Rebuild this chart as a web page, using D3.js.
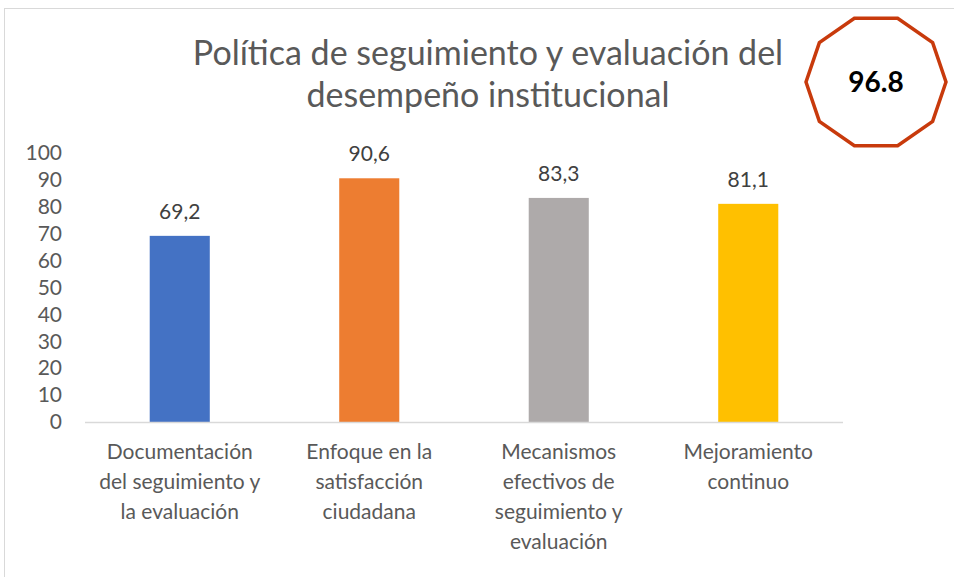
<!DOCTYPE html>
<html>
<head>
<meta charset="utf-8">
<script src="https://cdn.jsdelivr.net/npm/d3@7"></script>
<style>
  body { margin: 0; background: #fff; }
  svg { display: block; font-family: Lato, "Open Sans", sans-serif; }
</style>
</head>
<body>
<div id="chart"></div>
<script>
// data
var categories = [
  ["Documentación", "del seguimiento y", "la evaluación"],
  ["Enfoque en la", "satisfacción", "ciudadana"],
  ["Mecanismos", "efectivos de", "seguimiento y", "evaluación"],
  ["Mejoramiento", "continuo"]
]
var values = [69.2, 90.6, 83.3, 81.1]
var colors = ["#4472C4", "#ED7D31", "#AEAAAA", "#FFC000"]
var yTicks = [0, 10, 20, 30, 40, 50, 60, 70, 80, 90, 100]
var titleLines = ["Política de seguimiento y evaluación del", "desempeño institucional"]
var badge = "96.8"

var width = 954, height = 577

var svg = d3.select("#chart")
  .append("svg")
    .attr("width", width)
    .attr("height", height)

// chart frame
svg.append("rect")
  .attr("x", 4.5).attr("y", 8.5)
  .attr("width", 970).attr("height", 600)
  .attr("fill", "#fff")
  .attr("stroke", "#d9d9d9")

var x = d3.scaleBand()
  .domain(d3.range(values.length))
  .range([85, 843])
  .padding(0)

var y = d3.scaleLinear()
  .domain([0, 100])
  .range([422, 153])

// y axis labels, no line
var yAxis = svg.append("g")
  .attr("transform", "translate(62,0)")
  .call(d3.axisLeft(y).tickValues(yTicks).tickSize(0).tickPadding(0))
yAxis.select(".domain").remove()
yAxis.selectAll("text")
  .attr("fill", "#595959")
  .style("font-size", "21px")
  .style("font-family", "Lato, 'Open Sans', sans-serif")

var barW = x.bandwidth() * 0.317

svg.append("g")
  .selectAll("rect")
  .data(values)
  .enter().append("rect")
    .attr("x", function(d, i) { return x(i) + (x.bandwidth() - barW) / 2 })
    .attr("y", function(d) { return y(d) })
    .attr("width", barW)
    .attr("height", function(d) { return y(0) - y(d) })
    .attr("fill", function(d, i) { return colors[i] })

// baseline
svg.append("line")
  .attr("x1", x.range()[0]).attr("x2", x.range()[1])
  .attr("y1", y(0) + 0.5).attr("y2", y(0) + 0.5)
  .attr("stroke", "#d9d9d9")
  .attr("stroke-width", 1.5)

// value labels
svg.append("g")
  .selectAll("text")
  .data(values)
  .enter().append("text")
    .attr("x", function(d, i) { return x(i) + x.bandwidth() / 2 })
    .attr("y", function(d) { return y(d) - 17 })
    .attr("text-anchor", "middle")
    .attr("fill", "#404040")
    .style("font-size", "21px")
    .text(function(d) { return String(d).replace(".", ",") })

// category labels
var cat = svg.append("g")
  .selectAll("text")
  .data(categories)
  .enter().append("text")
    .attr("text-anchor", "middle")
    .attr("fill", "#595959")
    .style("font-size", "21px")
cat.selectAll("tspan")
  .data(function(d, i) { return d.map(function(t) { return {t: t, i: i} }) })
  .enter().append("tspan")
    .attr("x", function(d) { return x(d.i) + x.bandwidth() / 2 })
    .attr("y", function(d, j) { return 459 + j * 30 })
    .text(function(d) { return d.t })

// title
svg.append("g")
  .selectAll("text")
  .data(titleLines)
  .enter().append("text")
    .attr("x", 488)
    .attr("y", function(d, i) { return 65 + i * 42 })
    .attr("text-anchor", "middle")
    .attr("fill", "#595959")
    .style("font-size", "34px")
    .text(function(d) { return d })

// decagon badge
var cx = 876, cy = 82, rx = 70, ry = 67
var pts = d3.range(10).map(function(k) {
  var a = k * Math.PI / 5
  return [cx + rx * Math.cos(a), cy + ry * Math.sin(a)]
})
svg.append("polygon")
  .attr("points", pts.map(function(p) { return p.join(",") }).join(" "))
  .attr("fill", "#fff")
  .attr("stroke", "#C83A0C")
  .attr("stroke-width", 3.5)
svg.append("text")
  .attr("x", cx).attr("y", cy + 10)
  .attr("text-anchor", "middle")
  .attr("fill", "#000")
  .style("font-size", "28px")
  .style("font-weight", "bold")
  .text(badge)
</script>
</body>
</html>
